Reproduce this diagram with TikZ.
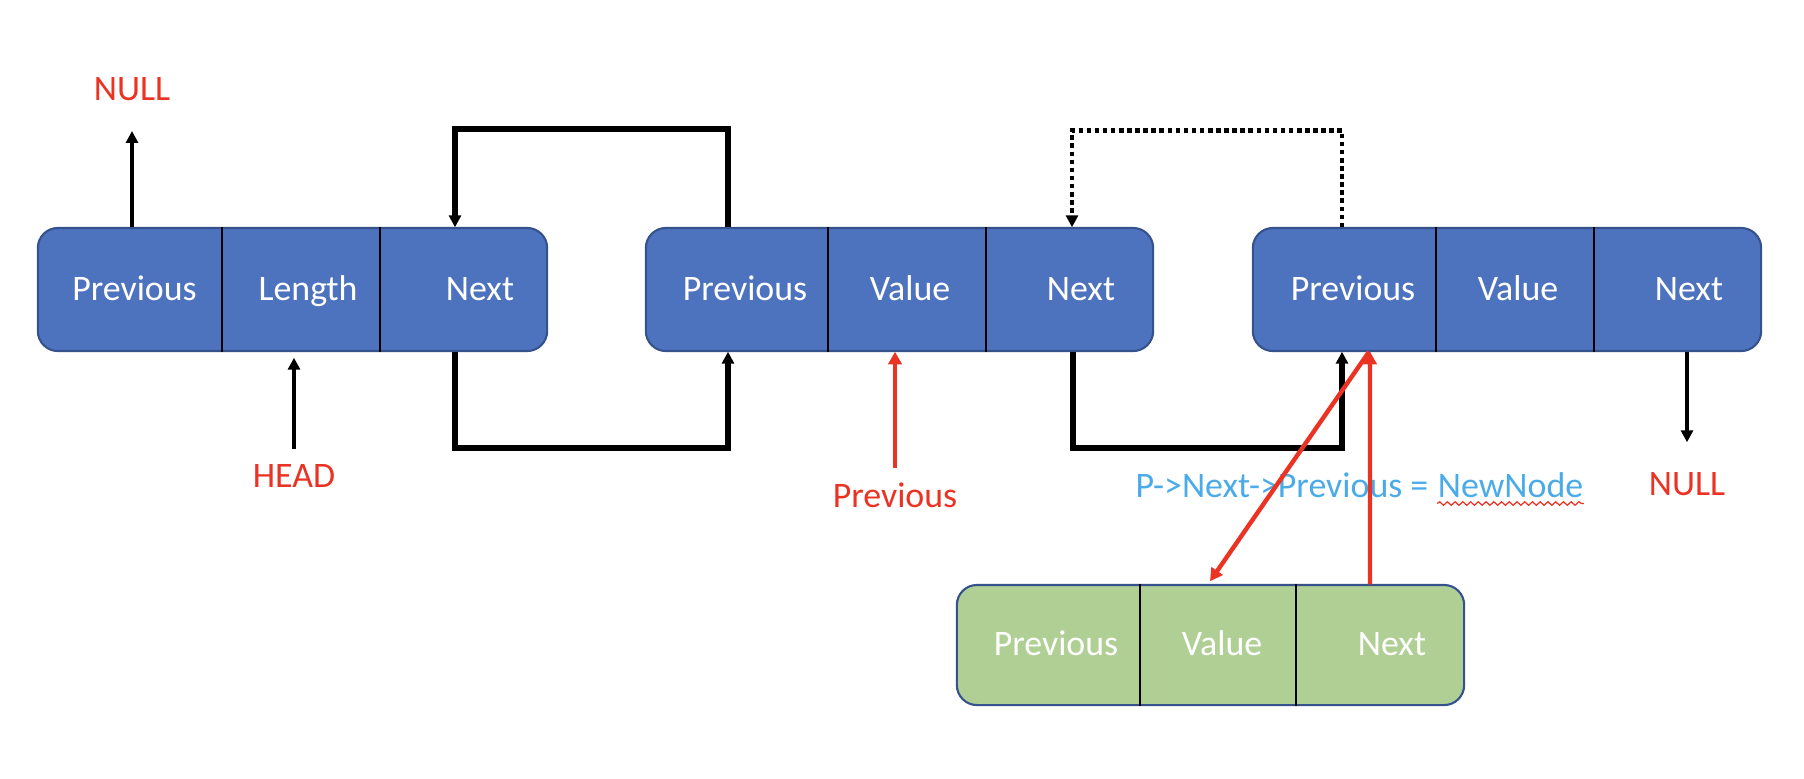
\documentclass[tikz,border=0pt]{standalone}
\usepackage{fontspec}
\setmainfont{Carlito}
\usetikzlibrary{arrows.meta,decorations.pathmorphing,calc}
\definecolor{boxblue}{HTML}{4E73BE}
\definecolor{boxedge}{HTML}{35528C}
\definecolor{boxgreen}{HTML}{B0CF95}
\definecolor{txtred}{HTML}{EA3323}
\definecolor{txtblue}{HTML}{4AABE8}
\begin{document}
\begin{tikzpicture}[x=0.01cm,y=-0.01cm,
  font=\fontsize{10.2pt}{12pt}\selectfont,
  bluebox/.style={draw=boxedge, line width=0.6pt, rounded corners=0.2cm, fill=boxblue, inner sep=0pt, minimum height=1.23cm},
  greenbox/.style={bluebox, fill=boxgreen, minimum height=1.20cm},
  cell/.style={draw=none, inner sep=0pt, minimum height=1.23cm},
  gcell/.style={cell, minimum height=1.20cm},
  lbl/.style={text=white, anchor=base, inner sep=0pt},
  redlbl/.style={text=txtred, anchor=base, inner sep=0pt},
  bluelbl/.style={text=txtblue, anchor=base west, inner sep=0pt},
  divider/.style={line width=0.5pt, black},
  tip/.style={-{Triangle[length=3.4pt,width=3.4pt]}},
  link/.style={tip, line width=1.6pt, black},
  dotlink/.style={tip, line width=1.35pt, black, dash pattern=on 1.3pt off 1.0pt},
  ptr/.style={tip, line width=1.1pt, black},
  redptr/.style={-{Triangle[length=3.6pt,width=3.8pt]}, line width=1.25pt, txtred}]
\useasboundingbox (0,0) rectangle (1804,778);

% ---- box 1
\node[bluebox, minimum width=5.09cm] (box1) at (292.5,289.5) {};
\node[cell, minimum width=1.83cm] (b1p) at (129.5,289.5) {};
\node[cell, minimum width=1.58cm] (b1l) at (300,289.5) {};
\node[cell, minimum width=1.68cm] (b1n) at (463,289.5) {};
\draw[divider] (b1p.north east) -- (b1p.south east);
\draw[divider] (b1l.north east) -- (b1l.south east);
\node[lbl] (t1p) at (134.5,300) {Previous};
\node[lbl] (t1l) at (308,300) {Length};
\node[lbl] (t1n) at (480,300) {Next};

% ---- box 2
\node[bluebox, minimum width=5.07cm] (box2) at (899.5,289.5) {};
\node[cell, minimum width=1.81cm] (b2p) at (736.5,289.5) {};
\node[cell, minimum width=1.58cm] (b2v) at (906,289.5) {};
\node[cell, minimum width=1.68cm] (b2n) at (1069,289.5) {};
\draw[divider] (b2p.north east) -- (b2p.south east);
\draw[divider] (b2v.north east) -- (b2v.south east);
\node[lbl] (t2p) at (745,300) {Previous};
\node[lbl] (t2v) at (910,300) {Value};
\node[lbl] (t2n) at (1081,300) {Next};

% ---- box 3
\node[bluebox, minimum width=5.08cm] (box3) at (1507,289.5) {};
\node[cell, minimum width=1.82cm] (b3p) at (1344,289.5) {};
\node[cell, minimum width=1.58cm] (b3v) at (1514,289.5) {};
\node[cell, minimum width=1.68cm] (b3n) at (1677,289.5) {};
\draw[divider] (b3p.north east) -- (b3p.south east);
\draw[divider] (b3v.north east) -- (b3v.south east);
\node[lbl] (t3p) at (1353,300) {Previous};
\node[lbl] (t3v) at (1518,300) {Value};
\node[lbl] (t3n) at (1689,300) {Next};

% ---- new node (green)
\node[greenbox, minimum width=5.07cm] (gbox) at (1210.5,645) {};
\node[gcell, minimum width=1.82cm] (gp) at (1048,645) {};
\node[gcell, minimum width=1.56cm] (gv) at (1217,645) {};
\node[gcell, minimum width=1.69cm] (gn) at (1379.5,645) {};
\draw[divider] (gp.north east) -- (gp.south east);
\draw[divider] (gv.north east) -- (gv.south east);
\node[lbl] (tgp) at (1056,655) {Previous};
\node[lbl] (tgv) at (1222,655) {Value};
\node[lbl] (tgn) at (1392,655) {Next};

% ---- labels
\node[redlbl] (null1) at (132,100) {NULL};
\node[redlbl] (head) at (294,487) {HEAD};
\node[redlbl] (prv) at (895,507) {Previous};
\node[redlbl] (null2) at (1687,495) {NULL};
\node[bluelbl] (pn1) at (1135,497) {P->Next->Previous =};
\node[bluelbl] (pn2) at ([xshift=0.082cm]pn1.base east) {NewNode};
\draw[txtred, line width=0.35pt, decorate, decoration={snake, amplitude=0.5pt, segment length=2.2pt}]
  ([yshift=-0.065cm]pn2.base west) -- ([yshift=-0.065cm]pn2.base east);

% ---- simple pointers
\draw[ptr, shorten >=0.3cm] (null1 |- b1p.north) -- (null1.south);
\draw[ptr, shorten <=0.14cm, shorten >=0.06cm] (head.north) -- (head |- b1l.south);
\draw[ptr, shorten >=0.29cm] (null2 |- b3n.south) -- (null2.north);
\draw[redptr, shorten <=0.14cm] (prv.north) -- (prv |- b2v.south);

% ---- links between nodes
\draw[link] ([xshift=-0.085cm]b2p.north) -- ++(0,-98) -| ([xshift=-0.08cm]b1n.north);
\draw[link] ([xshift=-0.08cm]b1n.south) -- ++(0,96) -| ([xshift=-0.085cm]b2p.south);
\draw[dotlink] ([xshift=-0.02cm]b3p.north) -- ++(0,-97) -| ([xshift=0.03cm]b2n.north);
\draw[link] ([xshift=0.04cm]b2n.south) -- ++(0,96) -| ([xshift=-0.02cm]b3p.south);

% ---- red links to the new node
\draw[redptr] ([xshift=-0.095cm]gn.north) -- ([xshift=0.26cm]b3p.south);
\draw[redptr] ([xshift=0.25cm]b3p.south) -- ([xshift=-0.07cm,yshift=0.03cm]gv.north);
\end{tikzpicture}
\end{document}
